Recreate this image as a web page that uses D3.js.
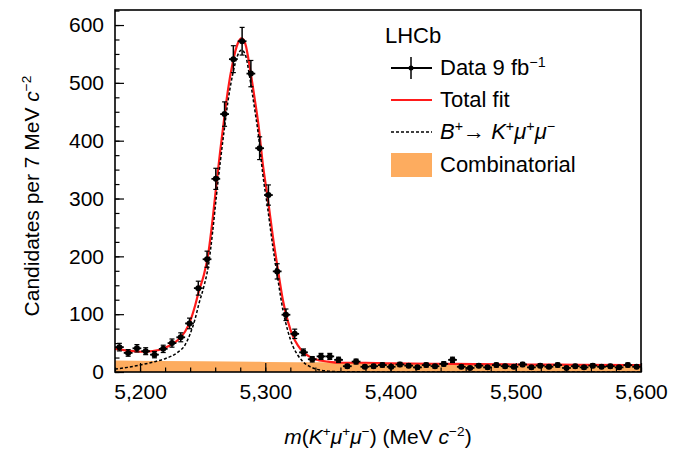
<!DOCTYPE html>
<html>
<head>
<meta charset="utf-8">
<script src="https://cdn.jsdelivr.net/npm/d3@7"></script>
<style>
body { margin: 0; background: #fff; }
text { font-family: "Liberation Sans", Arial, Helvetica, sans-serif; fill: #000; }
</style>
</head>
<body>
<div id="chart"></div>
<script>
// bin centres (7 MeV bins) and candidates per bin
var binCentres = [5183.5, 5190.5, 5197.5, 5204.5, 5211.5, 5218.5, 5225.5, 5232.5, 5239.5, 5246.5,
    5253.5, 5260.5, 5267.5, 5274.5, 5281.5, 5288.5, 5295.5, 5302.5, 5309.5, 5316.5,
    5323.5, 5330.5, 5337.5, 5344.5, 5351.5, 5358.5, 5365.5, 5372.5, 5379.5, 5386.5,
    5393.5, 5400.5, 5407.5, 5414.5, 5421.5, 5428.5, 5435.5, 5442.5, 5449.5, 5456.5,
    5463.5, 5470.5, 5477.5, 5484.5, 5491.5, 5498.5, 5505.5, 5512.5, 5519.5, 5526.5,
    5533.5, 5540.5, 5547.5, 5554.5, 5561.5, 5568.5, 5575.5, 5582.5, 5589.5, 5596.5];
var counts = [43, 33, 41, 36, 30, 40, 50, 60, 84, 145,
    195, 334, 446, 541, 572, 516, 387, 306, 174, 99,
    66, 34, 22, 27, 27, 21, 10, 18, 9, 10,
    12, 9, 13, 11, 8, 12, 10, 14, 21, 9,
    7, 11, 8, 12, 10, 9, 13, 8, 11, 9,
    12, 7, 10, 8, 11, 9, 10, 8, 12, 9];
var binHalfWidth = 3.5;

// fit curves
var fitMass = [5180, 5190, 5200, 5210, 5220, 5230, 5236, 5240, 5244, 5247, 5251, 5254.5, 5258, 5261,
    5264, 5267, 5270, 5274, 5278, 5281, 5284, 5288, 5291, 5294.5, 5298, 5302, 5306, 5310,
    5314, 5318, 5322, 5326, 5330, 5335, 5340, 5350, 5360, 5380, 5400, 5450, 5500, 5550, 5600];
var totalFit = [40, 37, 35, 36, 42, 55, 70, 88, 115, 140, 168, 205, 265, 325,
    382, 435, 485, 535, 568, 577, 568, 522, 480, 428, 360, 300, 235, 178,
    125, 88, 62, 46, 35, 27, 22, 18, 16, 16, 15, 14, 13, 12.5, 12];
var signalFit = [5, 8, 12, 17, 23, 34, 47, 66, 92, 118, 148, 183, 243, 305,
    362, 415, 465, 515, 548, 557, 549, 504, 462, 410, 342, 282, 217, 161,
    108, 71, 45, 29, 18, 10, 5.5, 1.5, 0.5, 0.2, 0.1, 0, 0, 0, 0];
var combMass = [5180, 5250, 5300, 5350, 5380, 5400, 5450, 5500, 5550, 5600];
var combFit = [20, 18.5, 17.5, 16.8, 15.5, 14.5, 13.8, 13, 12.4, 12];

var xTicks = [5200, 5300, 5400, 5500, 5600];
var yTicks = [0, 100, 200, 300, 400, 500, 600];

var width = 674;
var height = 451;
var plotLeft = 115, plotRight = 641, plotTop = 10, plotBottom = 372;

var svg = d3.select('#chart')
    .append('svg')
    .attr('width', width)
    .attr('height', height);

var xscale = d3.scaleLinear()
    .domain([5180, 5600])
    .range([plotLeft, plotRight]);

var yscale = d3.scaleLinear()
    .domain([0, 626])
    .range([plotBottom, plotTop]);

svg.append('clipPath').attr('id', 'clip')
    .append('rect')
    .attr('x', plotLeft).attr('y', plotTop)
    .attr('width', plotRight - plotLeft).attr('height', plotBottom - plotTop);

var plot = svg.append('g').attr('clip-path', 'url(#clip)');

// combinatorial
var area = d3.area()
    .x(function (d, i) { return xscale(combMass[i]); })
    .y0(yscale(0))
    .y1(function (d) { return yscale(d); })
    .curve(d3.curveMonotoneX);

plot.append('path')
    .datum(combFit)
    .attr('d', area)
    .attr('fill', '#fdac5f');

var line = d3.line()
    .x(function (d, i) { return xscale(fitMass[i]); })
    .y(function (d) { return yscale(d); })
    .curve(d3.curveMonotoneX);

// total fit
plot.append('path')
    .datum(totalFit)
    .attr('d', line)
    .attr('fill', 'none')
    .attr('stroke', '#ff1a1a')
    .attr('stroke-width', 2.2);

// signal
plot.append('path')
    .datum(signalFit)
    .attr('d', line)
    .attr('fill', 'none')
    .attr('stroke', '#000')
    .attr('stroke-width', 1.5)
    .attr('stroke-dasharray', '3,2');

// data points
var pts = plot.selectAll('g.pt')
    .data(counts)
    .enter()
    .append('g')
    .attr('class', 'pt');

pts.append('line')
    .attr('x1', function (d, i) { return xscale(binCentres[i] - binHalfWidth); })
    .attr('x2', function (d, i) { return xscale(binCentres[i] + binHalfWidth); })
    .attr('y1', function (d) { return yscale(d); })
    .attr('y2', function (d) { return yscale(d); })
    .attr('stroke', '#000')
    .attr('stroke-width', 1.8);

pts.append('line')
    .attr('x1', function (d, i) { return xscale(binCentres[i]); })
    .attr('x2', function (d, i) { return xscale(binCentres[i]); })
    .attr('y1', function (d) { return yscale(d + Math.sqrt(d)); })
    .attr('y2', function (d) { return yscale(Math.max(0, d - Math.sqrt(d))); })
    .attr('stroke', '#000')
    .attr('stroke-width', 1.5);

// caps on the error bars
[1, -1].forEach(function (s) {
    pts.append('line')
        .attr('x1', function (d, i) { return xscale(binCentres[i]) - 2.5; })
        .attr('x2', function (d, i) { return xscale(binCentres[i]) + 2.5; })
        .attr('y1', function (d) { return yscale(d + s * Math.sqrt(d)); })
        .attr('y2', function (d) { return yscale(d + s * Math.sqrt(d)); })
        .attr('stroke', '#000')
        .attr('stroke-width', 1.2);
});

pts.append('circle')
    .attr('cx', function (d, i) { return xscale(binCentres[i]); })
    .attr('cy', function (d) { return yscale(d); })
    .attr('r', 3)
    .attr('fill', '#000');

// axes, ticks pointing inwards
var xaxis = d3.axisBottom(xscale)
    .tickValues(xTicks)
    .tickFormat(d3.format(','))
    .tickSize(-9)
    .tickPadding(12);
var xminor = d3.axisBottom(xscale)
    .tickValues(d3.range(5180, 5601, 20))
    .tickFormat('')
    .tickSize(-4.5);
var yaxis = d3.axisLeft(yscale)
    .tickValues(yTicks)
    .tickSize(-9)
    .tickPadding(11);
var yminor = d3.axisLeft(yscale)
    .tickValues(d3.range(0, 626, 25))
    .tickFormat('')
    .tickSize(-4.5);

function style(g) {
    g.select('.domain').remove();
    g.selectAll('line').attr('stroke', '#000').attr('stroke-width', 1.2);
    g.selectAll('text').style('font-size', '21px').attr('fill', '#000');
}

svg.append('g').attr('transform', 'translate(0,' + plotBottom + ')').call(xminor).call(style);
svg.append('g').attr('transform', 'translate(0,' + plotBottom + ')').call(xaxis).call(style);
svg.append('g').attr('transform', 'translate(' + plotLeft + ',0)').call(yminor).call(style);
svg.append('g').attr('transform', 'translate(' + plotLeft + ',0)').call(yaxis).call(style);

// frame
svg.append('rect')
    .attr('x', plotLeft).attr('y', plotTop)
    .attr('width', plotRight - plotLeft).attr('height', plotBottom - plotTop)
    .attr('fill', 'none')
    .attr('stroke', '#000')
    .attr('stroke-width', 1.6);

// text with super scripts and italics
function rich(g, parts, size) {
    var t = g.style('font-size', size + 'px');
    parts.forEach(function (p) {
        var s = t.append('tspan').text(p.t);
        if (p.i) s.style('font-style', 'italic');
        if (p.sup) {
            s.attr('dy', -size * 0.38).style('font-size', (size * 0.65) + 'px');
        } else if (p.after) {
            s.attr('dy', size * 0.38);
        }
    });
    return t;
}

// axis titles
rich(svg.append('text')
    .attr('transform', 'translate(39,196) rotate(-90)')
    .style('text-anchor', 'middle'),
    [{t: 'Candidates per 7 MeV '}, {t: 'c', i: true}, {t: '\u22122', sup: true}], 21);

rich(svg.append('text')
    .attr('x', 378).attr('y', 444)
    .style('text-anchor', 'middle'),
    [{t: 'm', i: true}, {t: '('}, {t: 'K', i: true}, {t: '+', sup: true},
     {t: '\u03bc', i: true, after: true}, {t: '+', sup: true},
     {t: '\u03bc', i: true, after: true}, {t: '\u2212', sup: true},
     {t: ') (MeV ', after: true}, {t: 'c', i: true}, {t: '\u22122', sup: true},
     {t: ')', after: true}], 21);

// legend
var lg = svg.append('g');
lg.append('text').attr('x', 385).attr('y', 43).style('font-size', '22px').text('LHCb');

lg.append('line').attr('x1', 391).attr('x2', 432).attr('y1', 68).attr('y2', 68)
    .attr('stroke', '#000').attr('stroke-width', 1.8);
lg.append('line').attr('x1', 411).attr('x2', 411).attr('y1', 57).attr('y2', 79)
    .attr('stroke', '#000').attr('stroke-width', 1.5);
lg.append('circle').attr('cx', 411).attr('cy', 68).attr('r', 2.5).attr('fill', '#000');
rich(lg.append('text').attr('x', 440).attr('y', 75),
    [{t: 'Data 9 fb'}, {t: '\u22121', sup: true}], 22);

lg.append('line').attr('x1', 391).attr('x2', 432).attr('y1', 100).attr('y2', 100)
    .attr('stroke', '#ff1a1a').attr('stroke-width', 1.8);
lg.append('text').attr('x', 440).attr('y', 107).style('font-size', '22px').text('Total fit');

lg.append('line').attr('x1', 391).attr('x2', 432).attr('y1', 132).attr('y2', 132)
    .attr('stroke', '#000').attr('stroke-width', 1.3).attr('stroke-dasharray', '3,2');
rich(lg.append('text').attr('x', 440).attr('y', 139),
    [{t: 'B', i: true}, {t: '+', sup: true}, {t: '\u2192 ', after: true},
     {t: 'K', i: true}, {t: '+', sup: true}, {t: '\u03bc', i: true, after: true},
     {t: '+', sup: true}, {t: '\u03bc', i: true, after: true}, {t: '\u2212', sup: true}], 22);

lg.append('rect').attr('x', 391).attr('y', 153).attr('width', 41).attr('height', 24)
    .attr('fill', '#fdac5f');
lg.append('text').attr('x', 440).attr('y', 172).style('font-size', '22px').text('Combinatorial');
</script>
</body>
</html>
